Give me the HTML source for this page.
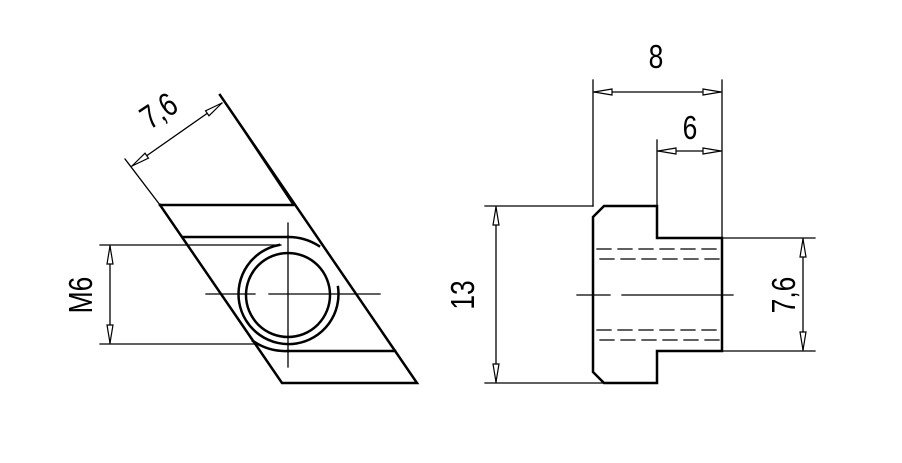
<!DOCTYPE html>
<html><head><meta charset="utf-8"><style>html,body{margin:0;padding:0;background:#fff}svg{display:block}</style></head>
<body>
<svg width="902" height="463" viewBox="0 0 902 463" xmlns="http://www.w3.org/2000/svg">
<defs>
<marker id="a" viewBox="0 0 20 8" refX="20" refY="4" markerWidth="20" markerHeight="8" markerUnits="userSpaceOnUse" orient="auto-start-reverse">
<path d="M20,4 L2,1 L2,7 Z" fill="#fff" stroke="#000" stroke-width="1.2"/>
</marker>
</defs>
<g fill="none" stroke="#000" stroke-linecap="square">
<!-- LEFT VIEW -->
<g stroke-width="1.3">
<line x1="125" y1="159" x2="160" y2="205"/>
<line x1="220" y1="95" x2="293" y2="205"/>
<line x1="100" y1="245" x2="281" y2="245"/>
<line x1="100" y1="344" x2="256" y2="344"/>
<line x1="206" y1="294" x2="255" y2="294"/>
<line x1="269" y1="294" x2="380" y2="294"/>
<line x1="288" y1="223" x2="288" y2="367"/>
<line x1="110" y1="246" x2="110" y2="343" marker-start="url(#a)" marker-end="url(#a)"/>
<line x1="132" y1="166" x2="222" y2="103" marker-start="url(#a)" marker-end="url(#a)"/>
</g>
<g stroke-width="2.5">
<path d="M160,205 L282,383 L417,383 L220,95"/>
<line x1="160" y1="205" x2="293" y2="205"/>
<line x1="183" y1="237" x2="288" y2="237"/>
<path d="M288,237 A57,57 0 0 1 319,246"/>
<path d="M253,341 A57,57 0 0 0 288,351"/>
<line x1="288" y1="351" x2="395" y2="351"/>
<circle cx="288" cy="295" r="42"/>
<path d="M279,245 A50,50 0 1 0 338,287"/>
</g>
<!-- RIGHT VIEW -->
<g stroke-width="1.3">
<line x1="593" y1="80" x2="593" y2="206"/>
<line x1="722" y1="80" x2="722" y2="238"/>
<line x1="657" y1="140" x2="657" y2="206"/>
<line x1="594" y1="92" x2="721" y2="92" marker-start="url(#a)" marker-end="url(#a)"/>
<line x1="658" y1="151" x2="721" y2="151" marker-start="url(#a)" marker-end="url(#a)"/>
<line x1="485" y1="206" x2="593" y2="206"/>
<line x1="485" y1="383" x2="604" y2="383"/>
<line x1="496" y1="207" x2="496" y2="382" marker-start="url(#a)" marker-end="url(#a)"/>
<line x1="722" y1="238" x2="815" y2="238"/>
<line x1="722" y1="351" x2="815" y2="351"/>
<line x1="803" y1="239" x2="803" y2="350" marker-start="url(#a)" marker-end="url(#a)"/>
<line x1="577" y1="295" x2="610" y2="295"/>
<line x1="622" y1="295" x2="733" y2="295"/>
<g stroke-dasharray="14,7">
<line x1="597" y1="249" x2="720" y2="249"/>
<line x1="600" y1="259" x2="720" y2="259"/>
<line x1="597" y1="330" x2="720" y2="330"/>
<line x1="600" y1="340" x2="720" y2="340"/>
</g>
</g>
<path stroke-width="2.5" stroke-linecap="butt" d="M604,206 L657,206 L657,238 L722,238 L722,351 L657,351 L657,383 L604,383 L593,372 L593,217 Z"/>
</g>
<g font-family="Liberation Sans, sans-serif" font-size="33" fill="#000" text-anchor="middle">
<text transform="translate(656,68) scale(0.8,1)">8</text>
<text transform="translate(690,139) scale(0.8,1)">6</text>
<text transform="translate(474,295) rotate(-90) scale(0.8,1)">13</text>
<text transform="translate(795,295) rotate(-90) scale(0.8,1)">7,6</text>
<text transform="translate(92,295) rotate(-90) scale(0.8,1)">M6</text>
<text transform="translate(165,120) rotate(-34) scale(0.8,1)">7,6</text>
</g>
</svg>
</body></html>
